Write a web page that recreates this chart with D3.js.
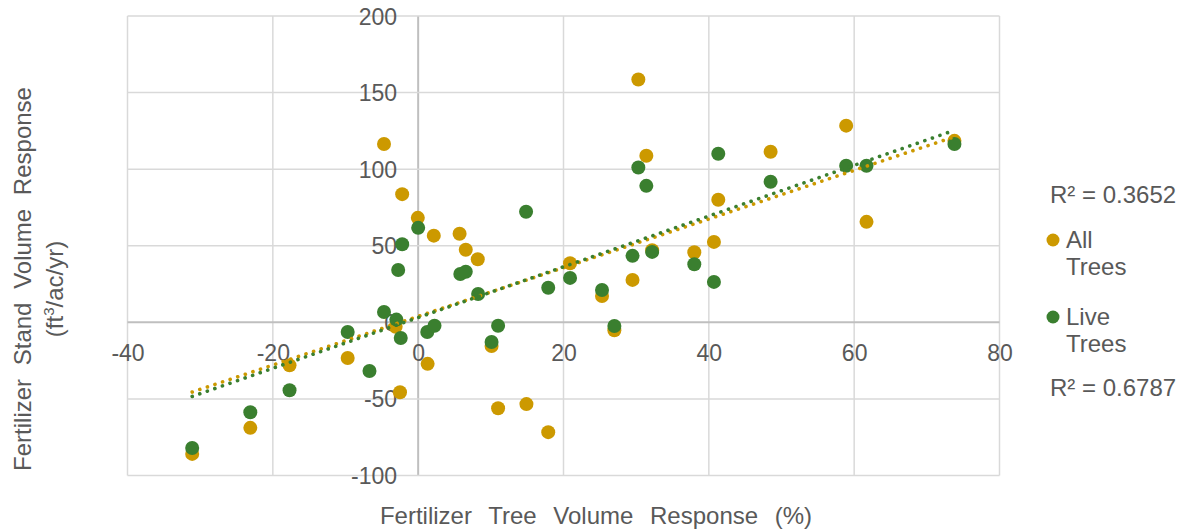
<!DOCTYPE html>
<html>
<head>
<meta charset="utf-8">
<script src="https://cdn.jsdelivr.net/npm/d3@7"></script>
<style>
  html, body { margin: 0; padding: 0; background: #fff; }
  svg { display: block; font-family: "Liberation Sans", Arial, sans-serif; }
</style>
</head>
<body>
<svg id="chart" width="1182" height="529"></svg>
<script>
// ---- Data ----
const allTreesX = [-31.1, -23.1, -17.7, -9.7, -4.7, -3.1, -2.5, -2.2, -0.05, 1.3, 2.15, 5.7, 6.55, 8.2, 10.1, 11.0, 14.9, 17.9, 20.9, 25.3, 27.0, 29.5, 30.3, 31.4, 32.2, 38.0, 40.7, 41.3, 48.5, 58.9, 61.7, 73.8];
const allTreesY = [-85.9, -68.9, -28.1, -23.3, 116.4, -2.9, -45.6, 83.7, 68.2, -27.1, 56.6, 57.8, 47.4, 41.2, -15.5, -56.1, -53.4, -71.7, 38.6, 17.2, -5.2, 27.7, 158.5, 108.8, 47.1, 45.8, 52.5, 80.0, 111.4, 128.4, 65.6, 118.5];
const liveTreesX = [-31.1, -23.1, -17.7, -9.7, -6.7, -4.7, -3.0, -2.75, -2.4, -2.2, 0.0, 1.25, 2.25, 5.8, 6.55, 8.25, 10.1, 11.0, 14.85, 17.9, 20.9, 25.3, 27.0, 29.5, 30.3, 31.4, 32.2, 38.0, 40.7, 41.3, 48.5, 58.9, 61.7, 73.8];
const liveTreesY = [-82.0, -58.7, -44.3, -6.3, -31.8, 6.7, 1.8, 34.2, -10.2, 51.0, 61.7, -6.3, -2.2, 31.6, 33.0, 18.5, -12.8, -2.2, 72.2, 22.6, 29.0, 21.1, -2.4, 43.4, 101.1, 89.1, 46.0, 37.9, 26.4, 110.1, 91.8, 102.2, 102.2, 116.4];
const seriesNames = [["All", "Trees"], ["Live", "Trees"]];
const rSquaredLabels = ["R\u00B2 = 0.3652", "R\u00B2 = 0.6787"];
const xTickValues = [-40, -20, 0, 20, 40, 60, 80];
const yTickValues = [-100, -50, 0, 50, 100, 150, 200];
const xAxisTitle = "Fertilizer Tree Volume Response (%)";
const yAxisTitleLine1 = "Fertilizer Stand Volume Response";

// ---- Styles ----
const GOLD = "#CC9900";
const GREEN = "#3A7F2F";
const TEXT = "#595959";
const GRID = "#D9D9D9";
const ZERO = "#BFBFBF";

const svg = d3.select("#chart");

const x = d3.scaleLinear().domain([-40, 80]).range([127.5, 999.5]);
const y = d3.scaleLinear().domain([-100, 200]).range([475.5, 16]);

// gridlines
const grid = svg.append("g");
grid.selectAll("line.v").data(xTickValues).join("line")
  .attr("x1", d => x(d)).attr("x2", d => x(d))
  .attr("y1", y(-100)).attr("y2", y(200))
  .attr("stroke", d => d === 0 ? ZERO : GRID)
  .attr("stroke-width", d => d === 0 ? 2 : 1.5);
grid.selectAll("line.h").data(yTickValues).join("line")
  .attr("x1", x(-40)).attr("x2", x(80))
  .attr("y1", d => y(d)).attr("y2", d => y(d))
  .attr("stroke", d => d === 0 ? ZERO : GRID)
  .attr("stroke-width", d => d === 0 ? 2 : 1.5);

const fmt = d => String(d);

// axes through origin (labels only, lines are the zero gridlines)
const xAxis = d3.axisBottom(x).tickValues(xTickValues).tickSize(0).tickPadding(0).tickFormat(fmt);
const gx = svg.append("g").attr("transform", `translate(0,${y(0)})`).call(xAxis);
gx.select(".domain").remove();
gx.selectAll("text")
  .attr("y", 31).attr("dy", "0.35em")
  .attr("fill", TEXT).attr("font-size", 23)
  .attr("font-family", "Liberation Sans, Arial, sans-serif");

const yAxis = d3.axisLeft(y).tickValues(yTickValues).tickSize(0).tickPadding(0).tickFormat(fmt);
const gy = svg.append("g").attr("transform", `translate(${x(0)},0)`).call(yAxis);
gy.select(".domain").remove();
gy.selectAll("text")
  .attr("x", -21).attr("dy", "0.35em")
  .attr("fill", TEXT).attr("font-size", 23)
  .attr("font-family", "Liberation Sans, Arial, sans-serif");

// points
const allPts = allTreesX.map((v, i) => ({ x: v, y: allTreesY[i] }));
const livePts = liveTreesX.map((v, i) => ({ x: v, y: liveTreesY[i] }));

svg.append("g").selectAll("circle").data(allPts).join("circle")
  .attr("cx", d => x(d.x)).attr("cy", d => y(d.y)).attr("r", 7).attr("fill", GOLD);
svg.append("g").selectAll("circle").data(livePts).join("circle")
  .attr("cx", d => x(d.x)).attr("cy", d => y(d.y)).attr("r", 7).attr("fill", GREEN);

// linear trendlines (least squares)
function fit(pts) {
  const mx = d3.mean(pts, d => d.x), my = d3.mean(pts, d => d.y);
  let sxy = 0, sxx = 0;
  pts.forEach(d => { sxy += (d.x - mx) * (d.y - my); sxx += (d.x - mx) ** 2; });
  const b = sxy / sxx, a = my - b * mx;
  const [x0, x1] = d3.extent(pts, d => d.x);
  return [{ x: x0, y: a + b * x0 }, { x: x1, y: a + b * x1 }];
}
const line = d3.line().x(d => x(d.x)).y(d => y(d.y));
[[allPts, GOLD], [livePts, GREEN]].forEach(([pts, c]) => {
  svg.append("path").datum(fit(pts)).attr("d", line)
    .attr("fill", "none").attr("stroke", c).attr("stroke-width", 3.6)
    .attr("stroke-linecap", "round").attr("stroke-dasharray", "0.1 7.9");
});

// axis titles
svg.append("text").attr("x", 596).attr("y", 516).attr("dy", "0.35em")
  .attr("text-anchor", "middle").attr("fill", TEXT).attr("font-size", 24)
  .attr("word-spacing", 10)
  .text(xAxisTitle);

const yt = svg.append("text").attr("transform", "translate(31,279) rotate(-90)")
  .attr("text-anchor", "middle").attr("fill", TEXT).attr("font-size", 24)
  .attr("word-spacing", 7);
yt.append("tspan").attr("x", 0).attr("y", 0).text(yAxisTitleLine1);
const l2 = yt.append("tspan").attr("x", -10).attr("y", 32);
l2.append("tspan").text("(ft");
l2.append("tspan").attr("font-size", 15).attr("dy", -9).text("3");
l2.append("tspan").attr("dy", 9).text("/ac/yr)");

// legend
const lg = svg.append("g").attr("fill", TEXT).attr("font-size", 24);
lg.append("text").attr("x", 1050).attr("y", 195).attr("dy", "0.35em").text(rSquaredLabels[0]);
lg.append("text").attr("x", 1050).attr("y", 388).attr("dy", "0.35em").text(rSquaredLabels[1]);
const legendRows = [[GOLD, 240], [GREEN, 317]];
legendRows.forEach(([c, cy], i) => {
  lg.append("circle").attr("cx", 1053).attr("cy", cy).attr("r", 6.5).attr("fill", c);
  lg.append("text").attr("x", 1066).attr("y", cy).attr("dy", "0.35em").text(seriesNames[i][0]);
  lg.append("text").attr("x", 1066).attr("y", cy + 26.5).attr("dy", "0.35em").text(seriesNames[i][1]);
});
</script>
</body>
</html>
